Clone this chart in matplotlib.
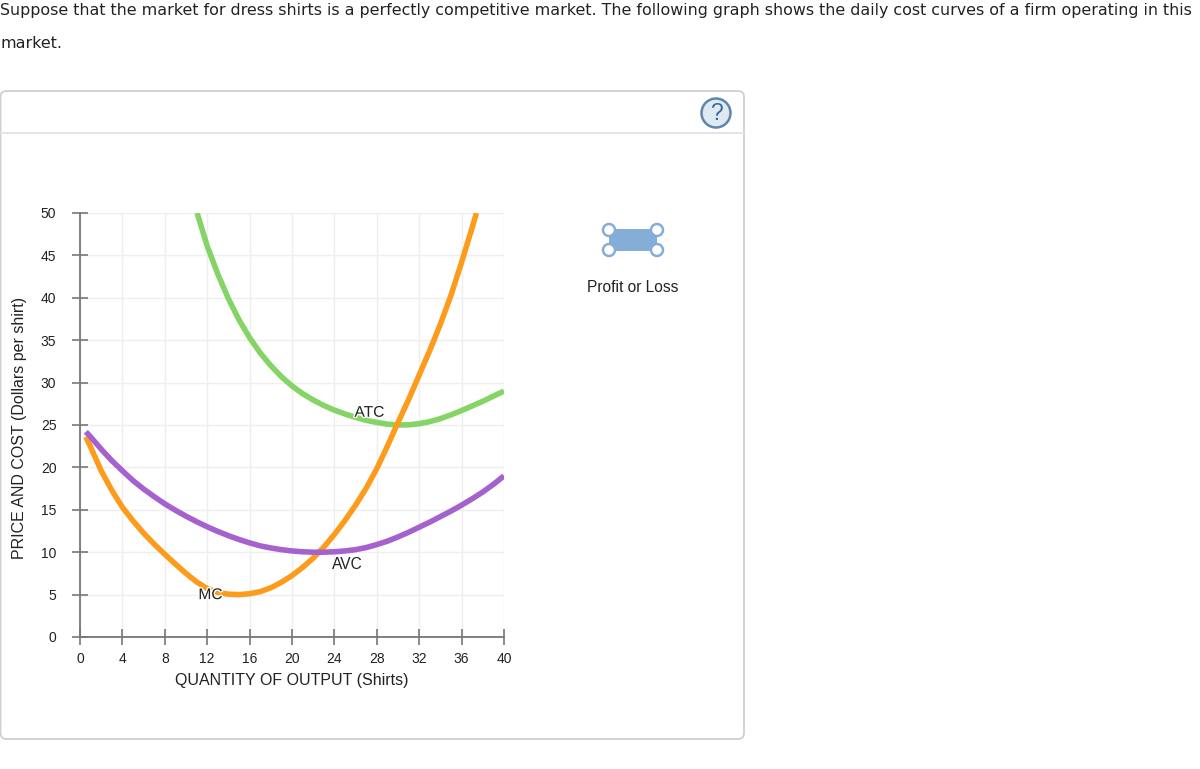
#!/usr/bin/env python3
"""Daily cost curves of a firm in a perfectly competitive market."""
import matplotlib
matplotlib.use("Agg")
import matplotlib.pyplot as plt
import matplotlib.patheffects as pe
from matplotlib.patches import Circle, FancyBboxPatch, Rectangle

W, H = 1200, 769

mc_x = [0.55, 1, 2, 3, 4, 5, 6, 7, 8, 9, 10, 11, 12, 13, 14, 15, 16, 17, 18, 19, 20, 21, 22, 23, 24, 25, 26, 27, 28, 29, 30,
        31, 32, 33, 34, 35, 36, 37, 37.4]
mc_y = [23.6, 22.4, 19.6, 17.3, 15.3, 13.7, 12.25, 10.95, 9.75, 8.6, 7.5, 6.5, 5.7, 5.25, 5.05, 5, 5.1, 5.35, 5.8, 6.45, 7.25, 8.2, 9.3, 10.6, 12.1, 13.75, 15.55, 17.55, 19.85, 22.5, 25.3,
        28, 30.9, 33.8, 36.9, 40.3, 44.2, 48.3, 50]
atc_x = [11.05, 12, 13, 14, 15, 16, 17, 18, 19, 20, 21, 22, 23, 24, 25, 26, 27, 28, 29, 30, 31, 32, 33, 34, 35, 36, 37, 38, 39, 40]
atc_y = [50, 46.1, 42.8, 39.9, 37.4, 35.3, 33.5, 32, 30.7, 29.6, 28.7, 27.95, 27.3, 26.75, 26.3, 25.9, 25.55, 25.3, 25.1, 25, 25.02, 25.15, 25.4, 25.75, 26.2, 26.7, 27.25, 27.8, 28.4, 29]
avc_x = [0.55, 1, 2, 3, 4, 5, 6, 7, 8, 9, 10, 11, 12, 13, 14, 15, 16, 17, 18, 19, 20, 21, 22, 23, 24, 25, 26, 27, 28, 29, 30, 31, 32, 33, 34, 35, 36, 37, 38, 39, 40]
avc_y = [24.2, 23.6, 22.15, 20.8, 19.6, 18.45, 17.45, 16.55, 15.7, 14.95, 14.25, 13.6, 13, 12.45, 11.95, 11.5, 11.1, 10.75, 10.5, 10.3, 10.15, 10.05, 10, 10, 10.05, 10.15, 10.3, 10.55, 10.9, 11.3, 11.8, 12.35, 12.95, 13.55, 14.2, 14.85, 15.55, 16.3, 17.1, 18, 19]
x_ticks = list(range(0, 41, 4))
y_ticks = list(range(0, 51, 5))

ORANGE = "#fd9c1c"
GREEN = "#84d466"
PURPLE = "#a562cf"
GRID = "#eeeeee"
AXIS = "#777777"
ICON = "#84aed8"
CHART_FONT = "Liberation Sans"

fig = plt.figure(figsize=(W / 100, H / 100), dpi=100)

# page layer in pixel coordinates
bg = fig.add_axes([0, 0, 1, 1])
bg.set_xlim(0, W)
bg.set_ylim(H, 0)
bg.axis("off")

bg.text(0, 11, "Suppose that the market for dress shirts is a perfectly competitive market. The following graph shows the daily cost curves of a firm operating in this",
        fontsize=11.48, family="DejaVu Sans", va="center", ha="left", color="#222222")
bg.text(0, 44, "market.", fontsize=11.48, family="DejaVu Sans", va="center", ha="left", color="#222222")

bg.add_patch(FancyBboxPatch((0.5, 91), 743.5, 648, boxstyle="round,pad=0,rounding_size=6",
                            fc="white", ec="#cfcfcf", lw=1.3))
bg.plot([1, 744], [133, 133], color="#e2e2e2", lw=1.3)

# help button
bg.add_patch(Circle((716, 113), 14.5, fc="#dfe9f1", ec="#5f87aa", lw=1.8))
bg.text(716, 113.5, "?", fontsize=16.5, family=CHART_FONT, ha="center", va="center", color="#3d6a94")

# legend icon
bg.add_patch(Rectangle((609, 229), 48, 22, fc=ICON, ec="none"))
for cx, cy in [(609, 230), (657, 230), (609, 250), (657, 250)]:
    bg.add_patch(Circle((cx, cy), 6, fc="white", ec=ICON, lw=1.8, zorder=3))
bg.text(633, 287.5, "Profit or Loss", fontsize=11.2, family=CHART_FONT, ha="center", va="center", color="#222222")

# chart
ax = fig.add_axes([80 / W, 1 - 637 / H, 424 / W, 424 / H])
ax.patch.set_alpha(0)
ax.set_xlim(0, 40)
ax.set_ylim(0, 50)
ax.set_xticks(x_ticks)
ax.set_yticks(y_ticks)
ax.grid(True, color=GRID, lw=1)
ax.set_axisbelow(True)
ax.tick_params(direction="inout", length=11, width=1.2, color=AXIS, labelsize=10, labelcolor="#222222")
ax.tick_params(axis="x", pad=5.5)
ax.tick_params(axis="y", pad=11.5)
for label in ax.get_xticklabels() + ax.get_yticklabels():
    label.set_family(CHART_FONT)
for side in ("top", "right"):
    ax.spines[side].set_visible(False)
for side in ("left", "bottom"):
    ax.spines[side].set_color(AXIS)
    ax.spines[side].set_linewidth(1.3)

ax.plot(atc_x, atc_y, color=GREEN, lw=4, solid_capstyle="butt", solid_joinstyle="round", zorder=3)
ax.plot(avc_x, avc_y, color=PURPLE, lw=4, solid_capstyle="butt", solid_joinstyle="round", zorder=4)
ax.plot(mc_x, mc_y, color=ORANGE, lw=4, solid_capstyle="butt", solid_joinstyle="round", zorder=3.5)

halo = [pe.withStroke(linewidth=2, foreground="white")]
ax.text(12.3, 5, "MC", fontsize=11.2, family=CHART_FONT, ha="center", va="center", color="#222222", zorder=6, path_effects=halo)
ax.text(27.3, 26.5, "ATC", fontsize=11.2, family=CHART_FONT, ha="center", va="center", color="#222222", zorder=6, path_effects=halo)
ax.text(25.2, 8.5, "AVC", fontsize=11.2, family=CHART_FONT, ha="center", va="center", color="#222222", zorder=6)

bg.text(292, 681, "QUANTITY OF OUTPUT (Shirts)", fontsize=11.5, family=CHART_FONT, ha="center", va="center", color="#222222")
bg.text(20, 428, "PRICE AND COST (Dollars per shirt)", fontsize=11.5, family=CHART_FONT, rotation=90,
        ha="center", va="center", color="#222222")

fig.savefig("out.png", dpi=100)
